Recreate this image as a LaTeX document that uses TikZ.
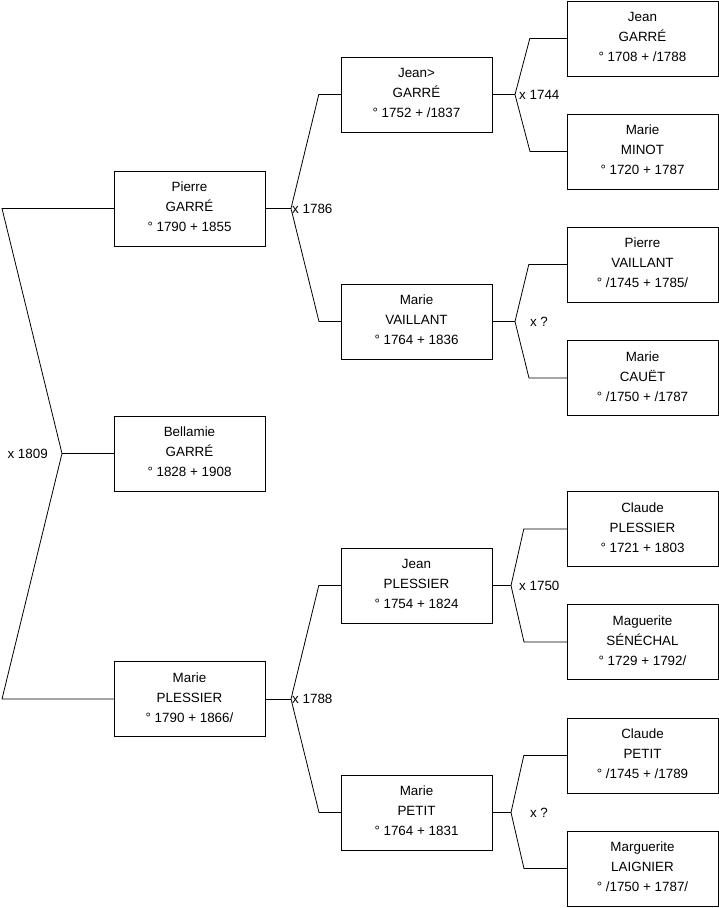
\documentclass[tikz,border=0pt]{standalone}
\usepackage{fontspec}
\setmainfont{Liberation Sans}
\usetikzlibrary{positioning}

\begin{document}
\begin{tikzpicture}[x=1pt, y=-1pt, every node/.style={font=\fontsize{13.4}{20}\selectfont}, person/.style={draw, align=center, minimum width=151pt, minimum height=75pt, inner sep=0pt, text depth=3pt}, link/.style={line width=0.8pt}, union/.style={inner sep=1pt}]
    \useasboundingbox (0,0) rectangle (719,908);

    % generation 1
    \node[person] (pierre) at (189.5,208.5) {Pierre\\GARRÉ\\° 1790 + 1855};
    \node[person] (bellamie) at (189.5,453.5) {Bellamie\\GARRÉ\\° 1828 + 1908};
    \node[person] (marieP) at (189.5,699) {Marie\\PLESSIER\\° 1790 + 1866/};

    % generation 2
    \node[person] (jeanG) at (416.5,94.5) {Jean>\\GARRÉ\\° 1752 + /1837};
    \node[person] (marieV) at (416.5,321.5) {Marie\\VAILLANT\\° 1764 + 1836};
    \node[person] (jeanP) at (416.5,585.5) {Jean\\PLESSIER\\° 1754 + 1824};
    \node[person] (mariePe) at (416.5,812.5) {Marie\\PETIT\\° 1764 + 1831};

    % generation 3
    \node[person] (jeanGG) at (642.5,38.5) {Jean\\GARRÉ\\° 1708 + /1788};
    \node[person] (marieM) at (642.5,151.5) {Marie\\MINOT\\° 1720 + 1787};
    \node[person] (pierreV) at (642.5,264.5) {Pierre\\VAILLANT\\° /1745 + 1785/};
    \node[person] (marieC) at (642.5,378) {Marie\\CAUËT\\° /1750 + /1787};
    \node[person] (claudeP) at (642.5,529) {Claude\\PLESSIER\\° 1721 + 1803};
    \node[person] (maguerite) at (642.5,642) {Maguerite\\SÉNÉCHAL\\° 1729 + 1792/};
    \node[person] (claudePe) at (642.5,755.5) {Claude\\PETIT\\° /1745 + /1789};
    \node[person] (marguerite) at (642.5,868.5) {Marguerite\\LAIGNIER\\° /1750 + 1787/};

    % unions
    \coordinate (u0) at (62,453.5);
    \coordinate (u1) at (291,208.5);
    \coordinate (u2) at (291,699);
    \coordinate (u3) at (515,94.5);
    \coordinate (u4) at (515,321.5);
    \coordinate (u5) at (511,585.5);
    \coordinate (u6) at (511,812.5);

    \node[union, anchor=east] (x0) at (49,453.5) {x 1809};
    \node[union, anchor=west] (x1) at (u1) {x 1786};
    \node[union, anchor=west] (x2) at (u2) {x 1788};
    \node[union, anchor=west] (x3) at ([xshift=3pt]u3) {x 1744};
    \node[union] (x4) at (539,321.5) {x ?};
    \node[union, anchor=west] (x5) at ([xshift=7pt]u5) {x 1750};
    \node[union] (x6) at (539,812.5) {x ?};

    \draw[link] (bellamie.west) -- (u0);
    \draw[link] (pierre.west) -- (2,208.5) -- (u0) -- (2,699) -- (marieP.west);

    \draw[link] (pierre.east) -- (u1);
    \draw[link] (jeanG.west) -- ++(-22,0) -- (u1) -- (319,321.5) -- (marieV.west);
    \draw[link] (marieP.east) -- (u2);
    \draw[link] (jeanP.west) -- ++(-22,0) -- (u2) -- (319,812.5) -- (mariePe.west);

    \draw[link] (jeanG.east) -- (u3);
    \draw[link] (jeanGG.west) -- ++(-37,0) -- (u3) -- (530,151.5) -- (marieM.west);
    \draw[link] (marieV.east) -- (u4);
    \draw[link] (pierreV.west) -- ++(-38,0) -- (u4) -- (529,378) -- (marieC.west);
    \draw[link] (jeanP.east) -- (u5);
    \draw[link] (claudeP.west) -- ++(-43,0) -- (u5) -- (524,642) -- (maguerite.west);
    \draw[link] (mariePe.east) -- (u6);
    \draw[link] (claudePe.west) -- ++(-43,0) -- (u6) -- (524,868.5) -- (marguerite.west);
  \end{tikzpicture}
\end{document}
